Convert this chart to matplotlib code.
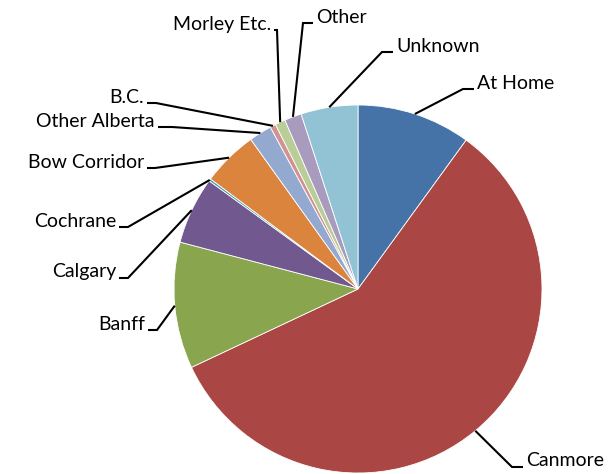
import numpy as np
import matplotlib
matplotlib.use("Agg")
import matplotlib.pyplot as plt

# ---- data (clockwise from 12 o'clock) ----
categories = ["At Home", "Canmore", "Banff", "Calgary", "Cochrane", "Bow Corridor",
              "Other Alberta", "B.C.", "Morley Etc.", "Other", "Unknown"]
values = [10.0, 58.0, 11.1, 5.9, 0.2, 4.9, 2.0, 0.5, 0.9, 1.5, 5.0]
colors = ["#4572A7", "#AA4643", "#89A54E", "#71588F", "#4198AF", "#DB843D",
          "#93A9CF", "#D19392", "#B9CD96", "#A99BBD", "#92C3D4"]

# ---- layout (pixel space of a 608x474 canvas, y downward) ----
W, H = 608, 474
CX, CY, R = 358, 289, 184
# leader: (elbow x, elbow y, end x, side); text placed beyond the end
leaders = {
    "At Home":       (463, 89, 474, "right"),
    "Canmore":       (512, 467, 523, "right"),
    "Banff":         (157, 330, 148, "left"),
    "Calgary":       (128, 278, 119, "left"),
    "Cochrane":      (128, 227, 119, "left"),
    "Bow Corridor":  (155, 168, 147, "left"),
    "Other Alberta": (172, 127, 158, "left"),
    "B.C.":          (156, 103, 147, "left"),
    "Morley Etc.":   (277, 30, 274, "left"),
    "Other":         (303, 23, 313, "right"),
    "Unknown":       (382, 52, 393, "right"),
}
# attachment angle overrides (deg clockwise from top) where the leader is not at mid-angle
attach_override = {"Banff": 264.8}

fig = plt.figure(figsize=(W / 100, H / 100), dpi=100)
ax = fig.add_axes([0, 0, 1, 1])

wedges, _ = ax.pie(values, colors=colors, startangle=90, counterclock=False,
                   center=(CX, H - CY), radius=R,
                   wedgeprops=dict(edgecolor="white", linewidth=0.6))
ax.set_xlim(0, W)
ax.set_ylim(0, H)
ax.set_aspect("equal")
ax.axis("off")

total = sum(values)
cum = 0.0
for cat, v in zip(categories, values):
    mid = (cum + v / 2) / total * 360.0
    cum += v
    ang = attach_override.get(cat, mid)
    sx = CX + R * np.sin(np.radians(ang))
    sy = CY - R * np.cos(np.radians(ang))
    ex, ey, hx, side = leaders[cat]
    ax.plot([sx, ex, hx], [H - sy, H - ey, H - ey], color="black", lw=1.5,
            solid_capstyle="butt", solid_joinstyle="miter")
    if side == "right":
        ax.text(hx + 3, H - ey + 6, cat, ha="left", va="center",
                fontsize=14, family="Lato", color="black")
    else:
        ax.text(hx - 3, H - ey + 6, cat, ha="right", va="center",
                fontsize=14, family="Lato", color="black")

fig.savefig("out.png", dpi=100)
